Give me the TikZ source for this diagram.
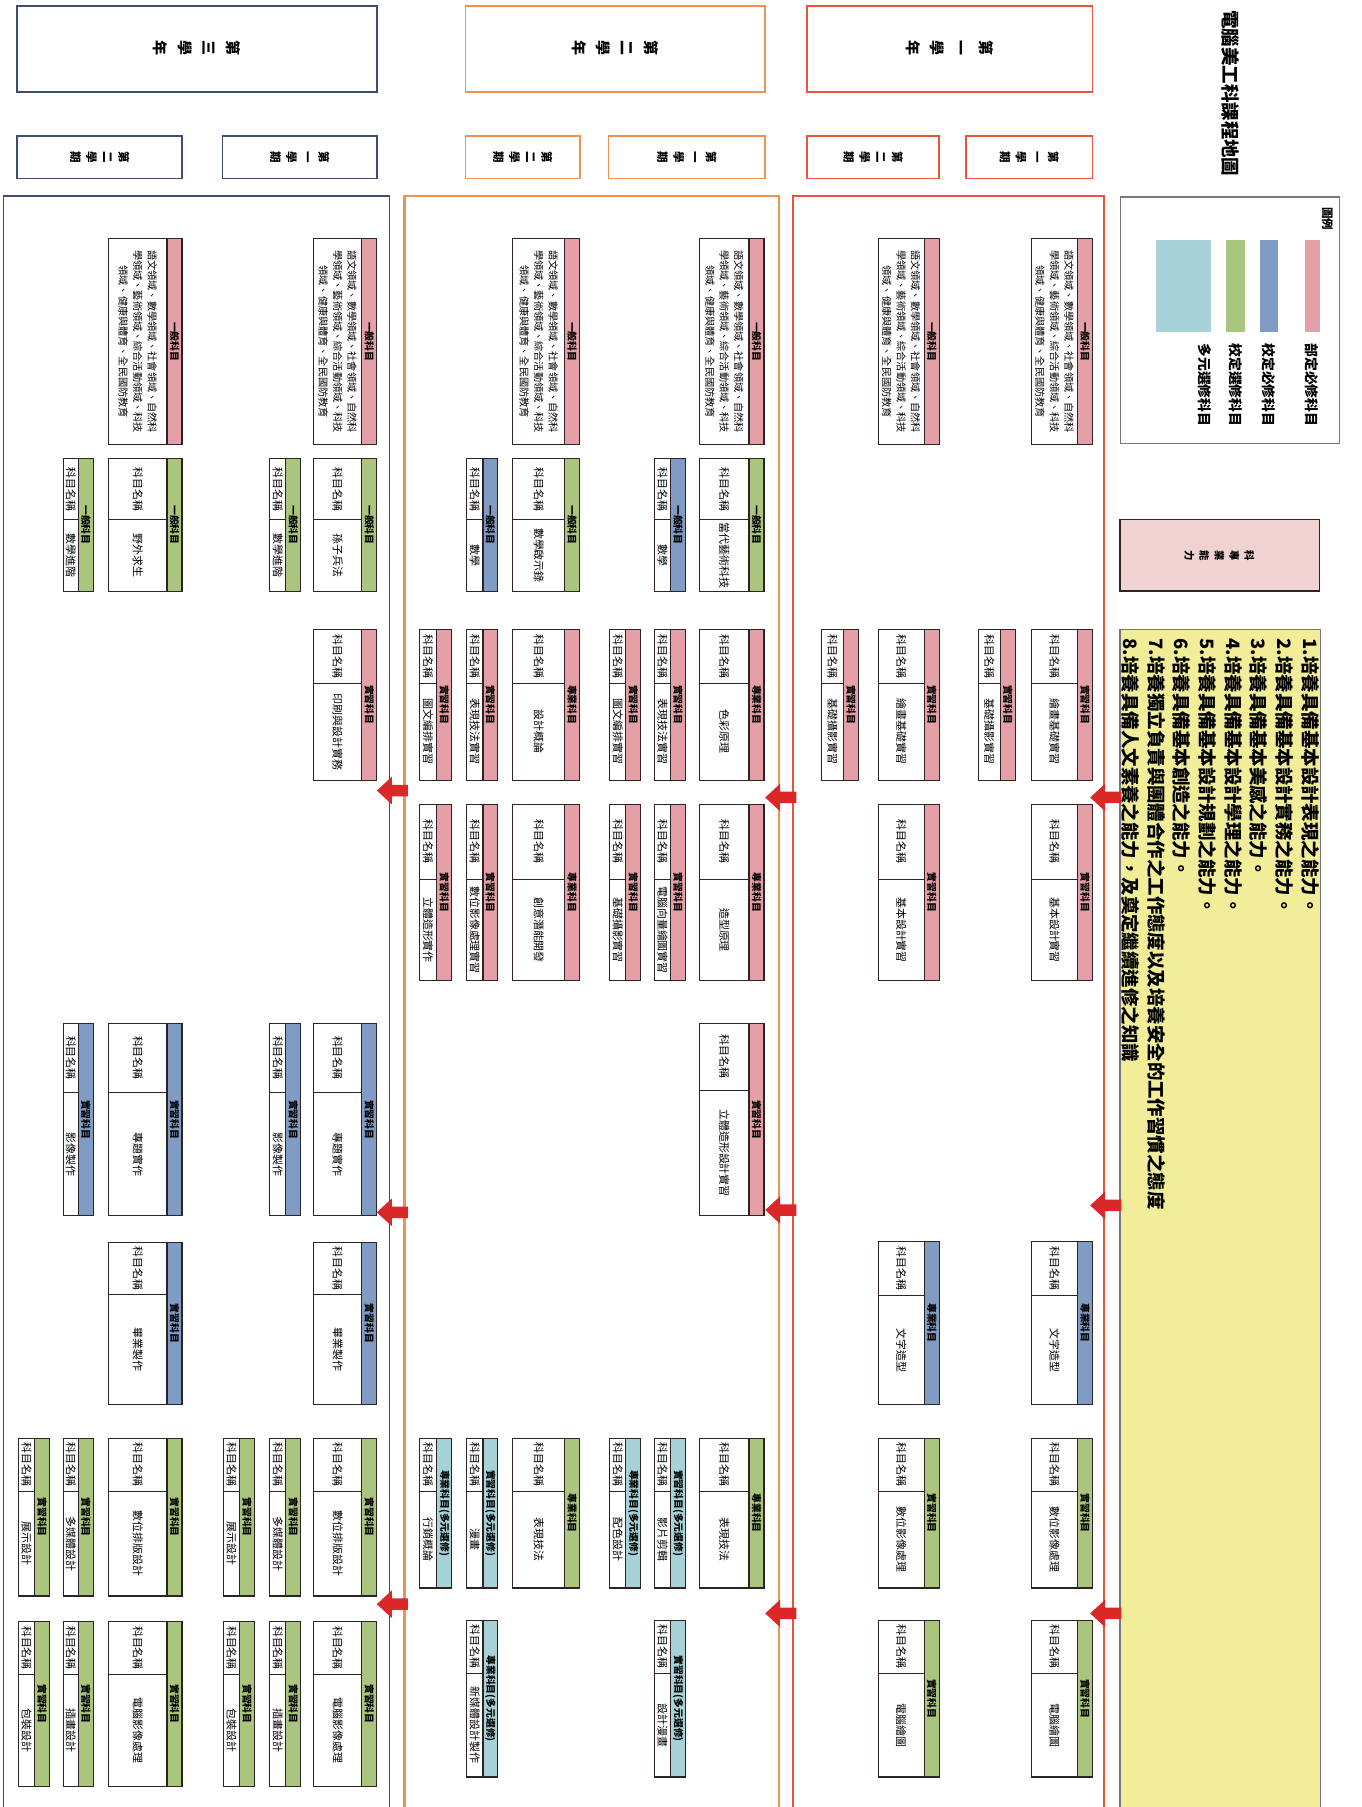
\documentclass[tikz,border=0pt]{standalone}
\usepackage{fontspec}
\setmainfont{Noto Sans CJK TC}
\definecolor{pinkc}{RGB}{228,160,166}
\definecolor{bluec}{RGB}{128,155,196}
\definecolor{greenc}{RGB}{170,197,126}
\definecolor{cyanc}{RGB}{166,210,216}
\definecolor{yellowc}{RGB}{241,237,152}
\definecolor{pinkbox}{RGB}{240,210,210}
\definecolor{redone}{RGB}{232,84,64}
\definecolor{orangetwo}{RGB}{240,145,80}
\definecolor{navythree}{RGB}{62,76,120}
\definecolor{arrowred}{RGB}{218,40,40}
\definecolor{boxdark}{RGB}{45,35,35}
\definecolor{leggray}{RGB}{120,118,128}
\tikzset{
  bl/.style={draw=boxdark, line width=1.1pt},
  hdr/.style={rotate=-90, font=\fontsize{8.5}{9}\selectfont\bfseries, inner sep=0pt},
  lbl/.style={rotate=-90, font=\fontsize{9.5}{10}\selectfont, inner sep=0pt},
  gtxt/.style={rotate=-90, align=center, font=\fontsize{8.8}{12.5}\selectfont, inner sep=0pt},
  yhead/.style={rotate=-90, align=center, font=\fontsize{13}{21}\selectfont\bfseries, inner sep=0pt},
  shead/.style={rotate=-90, align=center, font=\fontsize{10}{14}\selectfont\bfseries, inner sep=0pt},
  blockarrow/.style={fill=arrowred},
}
% #1 name #2 x0 #3 x1 #4 y0 #5 y1 #6 colour #7 category #8 course #9 split
\newcommand\course[9]{%
  \fill[#6] ({#3-13},#4) rectangle (#3,#5);
  \draw[bl] ({#3-13},#4) -- ({#3-13},#5) (#2,{#4+#9}) -- ({#3-13},{#4+#9});
  \draw[bl] (#2,#4) rectangle (#3,#5);
  \node[hdr] (#1-h) at ({#3-6.5},{(#4+#5)/2}) {#7};
  \node[lbl] (#1-k) at ({(#2+#3-13)/2},{#4+#9/2}) {科目名稱};
  \node[lbl] (#1-n) at ({(#2+#3-13)/2},{(#4+#9+#5)/2}) {#8};
}
\newcommand\general[5]{%
  \fill[pinkc] ({#3-13},#4) rectangle (#3,#5);
  \draw[bl] ({#3-13},#4) -- ({#3-13},#5);
  \draw[bl] (#2,#4) rectangle (#3,#5);
  \node[hdr] (#1-h) at ({#3-6.5},{(#4+#5)/2}) {一般科目};
  \node[gtxt] (#1-t) at ({(#2+#3-13)/2},{(#4+#5)/2}) {語文領域、數學領域、社會領域、自然科\\學領域、藝術領域、綜合活動領域、科技\\領域、健康與體育、全民國防教育};
}
\newcommand\leftarrowat[2]{%
  \fill[blockarrow] (#1,#2) -- ({#1+13},{#2-12}) -- ({#1+13},{#2-5}) -- ({#1+27},{#2-5})
    -- ({#1+27},{#2+5}) -- ({#1+13},{#2+5}) -- ({#1+13},{#2+12}) -- cycle;
}
\begin{document}
\begin{tikzpicture}[x=1pt,y=-1pt]
\useasboundingbox (0,0) rectangle (1181,1568);
\clip (0,0) rectangle (1181,1568);
\fill[white] (0,0) rectangle (1181,1568);

% title
\node[rotate=-90, font=\fontsize{16}{18}\selectfont\bfseries, inner sep=0pt] (title) at (1068,81) {電腦美工科課程地圖};

% legend
\draw[leggray, line width=1pt] (972,171) rectangle (1162,385);
\node[rotate=-90, font=\fontsize{10}{11}\selectfont\bfseries, inner sep=0pt] (legtitle) at (1152,190) {圖例};
\fill[pinkc] (1132,208) rectangle (1145,288);
\fill[bluec] (1093,208) rectangle (1109,288);
\fill[greenc] (1064,208) rectangle (1080,288);
\fill[cyanc] (1003,208) rectangle (1051,288);
\node[rotate=-90, font=\fontsize{12}{13}\selectfont\bfseries, inner sep=0pt] (leg1) at (1138,334) {部定必修科目};
\node[rotate=-90, font=\fontsize{12}{13}\selectfont\bfseries, inner sep=0pt] (leg2) at (1101,334) {校定必修科目};
\node[rotate=-90, font=\fontsize{12}{13}\selectfont\bfseries, inner sep=0pt] (leg3) at (1072,334) {校定選修科目};
\node[rotate=-90, font=\fontsize{12}{13}\selectfont\bfseries, inner sep=0pt] (leg4) at (1045,334) {多元選修科目};

% ability box
\fill[pinkbox] (972,451) rectangle (1145,513);
\draw[boxdark, line width=1.3pt] (972,451) rectangle (1145,513);
\node[rotate=-90, align=center, font=\fontsize{9}{13}\selectfont\bfseries, inner sep=0pt] (ability) at (1058,482) {科\\專\\業\\能\\力};

% objectives
\fill[yellowc] (972,546) rectangle (1146,1580);
\draw[leggray, line width=1.2pt] (972,546) rectangle (1146,1580);
\node[rotate=-90, anchor=north west, align=left, font=\fontsize{16}{22.3}\selectfont\bfseries, inner sep=0pt] (obj) at (1145,554) {1.培養具備基本設計表現之能力。\\2.培養具備基本設計實務之能力。\\3.培養具備基本美感之能力。\\4.培養具備基本設計學理之能力。\\5.培養具備基本設計規劃之能力。\\6.培養具備基本創造之能力。\\7.培養獨立負責與團體合作之工作態度以及培養安全的工作習慣之態度\\8.培養具備人文素養之能力，及奠定繼續進修之知識};

% year headers
\draw[navythree, line width=1.5pt] (15,5) rectangle (327,80);
\node[yhead] (y3) at (171,42) {第\\三\\學\\年};
\draw[orangetwo, line width=1.5pt] (404,5) rectangle (664,80);
\node[yhead] (y2) at (534,42) {第\\二\\學\\年};
\draw[redone, line width=1.5pt] (700,5) rectangle (948,80);
\node[yhead] (y1) at (824,42) {第\\一\\學\\年};

% semester headers
\draw[navythree, line width=1.5pt] (15,118) rectangle (158,155);
\node[shead] (s32) at (86.5,136.5) {第\\二\\學\\期};
\draw[navythree, line width=1.5pt] (193,118) rectangle (327,155);
\node[shead] (s31) at (260,136.5) {第\\一\\學\\期};
\draw[orangetwo, line width=1.5pt] (404,118) rectangle (503,155);
\node[shead] (s22) at (453.5,136.5) {第\\二\\學\\期};
\draw[orangetwo, line width=1.5pt] (528,118) rectangle (664,155);
\node[shead] (s21) at (596,136.5) {第\\一\\學\\期};
\draw[redone, line width=1.5pt] (700,118) rectangle (815,155);
\node[shead] (s12) at (757.5,136.5) {第\\二\\學\\期};
\draw[redone, line width=1.5pt] (838,118) rectangle (948,155);
\node[shead] (s11) at (893,136.5) {第\\一\\學\\期};

% column frames
\draw[redone, line width=1.5pt] (688,170) rectangle (958,1600);
\draw[orangetwo, line width=2pt] (351,170) rectangle (676,1600);
\draw[navythree, line width=1.5pt] (3,170) rectangle (338,1600);

% ---------- year 1 ----------
\general{g11}{895}{948}{207}{386}
\general{g12}{762}{815}{207}{386}
\course{c11a}{895}{948}{546}{677}{pinkc}{實習科目}{繪畫基礎實習}{47}
\course{c11b}{849}{881}{546}{677}{pinkc}{實習科目}{基礎攝影實習}{47}
\course{c12a}{762}{815}{546}{677}{pinkc}{實習科目}{繪畫基礎實習}{47}
\course{c12b}{713}{745}{546}{677}{pinkc}{實習科目}{基礎攝影實習}{47}
\course{c11c}{895}{948}{698}{851}{pinkc}{實習科目}{基本設計實習}{65}
\course{c12c}{762}{815}{698}{851}{pinkc}{實習科目}{基本設計實習}{65}
\course{c11d}{895}{948}{1077}{1219}{bluec}{專業科目}{文字造型}{47}
\course{c12d}{762}{815}{1077}{1219}{bluec}{專業科目}{文字造型}{47}
\course{c11e}{895}{948}{1248}{1378}{greenc}{實習科目}{數位影像處理}{46}
\course{c12e}{762}{815}{1248}{1378}{greenc}{實習科目}{數位影像處理}{46}
\course{c11f}{895}{948}{1406}{1542}{greenc}{實習科目}{電腦繪圖}{46}
\course{c12f}{762}{815}{1406}{1542}{greenc}{實習科目}{電腦繪圖}{46}

% ---------- year 2 ----------
\general{g21}{607}{663}{207}{386}
\general{g22}{445}{503}{207}{386}
\course{c21a}{607}{663}{398}{513}{greenc}{一般科目}{當代藝術科技}{53}
\course{c21b}{568}{595}{398}{513}{bluec}{一般科目}{數學}{53}
\course{c22a}{445}{503}{398}{513}{greenc}{一般科目}{數學啟示錄}{53}
\course{c22b}{405}{432}{398}{513}{bluec}{一般科目}{數學}{53}
\course{c21c}{607}{663}{546}{677}{pinkc}{專業科目}{色彩原理}{47}
\course{c21d}{568}{595}{546}{677}{pinkc}{實習科目}{表現技法實習}{47}
\course{c21e}{529}{556}{546}{677}{pinkc}{實習科目}{圖文編排實習}{47}
\course{c22c}{445}{503}{546}{677}{pinkc}{專業科目}{設計概論}{47}
\course{c22d}{405}{432}{546}{677}{pinkc}{實習科目}{表現技法實習}{47}
\course{c22e}{364}{392}{546}{677}{pinkc}{實習科目}{圖文編排實習}{47}
\course{c21f}{607}{663}{698}{851}{pinkc}{專業科目}{造型原理}{65}
\course{c21g}{568}{595}{698}{851}{pinkc}{實習科目}{電腦向量繪圖實習}{65}
\course{c21h}{529}{556}{698}{851}{pinkc}{實習科目}{基礎攝影實習}{65}
\course{c22f}{445}{503}{698}{851}{pinkc}{專業科目}{創意潛能開發}{65}
\course{c22g}{405}{432}{698}{851}{pinkc}{實習科目}{數位影像處理實習}{65}
\course{c22h}{364}{392}{698}{851}{pinkc}{實習科目}{立體造形實作}{65}
\course{c21i}{607}{663}{888}{1055}{pinkc}{實習科目}{立體造形設計實習}{58}
\course{c21j}{607}{663}{1248}{1378}{greenc}{專業科目}{表現技法}{46}
\course{c21k}{568}{595}{1248}{1378}{cyanc}{實習科目(多元選修)}{影片剪輯}{46}
\course{c21l}{529}{556}{1248}{1378}{cyanc}{專業科目(多元選修)}{配色設計}{46}
\course{c22j}{445}{503}{1248}{1378}{greenc}{專業科目}{表現技法}{46}
\course{c22k}{405}{432}{1248}{1378}{cyanc}{實習科目(多元選修)}{漫畫}{46}
\course{c22l}{364}{392}{1248}{1378}{cyanc}{專業科目(多元選修)}{行銷概論}{46}
\course{c21m}{568}{595}{1406}{1542}{cyanc}{實習科目(多元選修)}{設計漫畫}{46}
\course{c22m}{405}{432}{1406}{1542}{cyanc}{專業科目(多元選修)}{新媒體設計製作}{46}

% ---------- year 3 ----------
\general{g31}{272}{327}{207}{386}
\general{g32}{94}{158}{207}{386}
\course{c31a}{272}{327}{398}{513}{greenc}{一般科目}{孫子兵法}{53}
\course{c31b}{234}{261}{398}{513}{greenc}{一般科目}{數學進階}{53}
\course{c32a}{94}{158}{398}{513}{greenc}{一般科目}{野外求生}{53}
\course{c32b}{55}{81}{398}{513}{greenc}{一般科目}{數學進階}{53}
\course{c31c}{272}{327}{546}{677}{pinkc}{實習科目}{印刷與設計實務}{47}
\course{c31d}{272}{327}{888}{1055}{bluec}{實習科目}{專題實作}{60}
\course{c31e}{234}{261}{888}{1055}{bluec}{實習科目}{影像製作}{60}
\course{c32d}{94}{158}{888}{1055}{bluec}{實習科目}{專題實作}{60}
\course{c32e}{55}{81}{888}{1055}{bluec}{實習科目}{影像製作}{60}
\course{c31f}{272}{327}{1078}{1219}{bluec}{實習科目}{畢業製作}{45}
\course{c32f}{94}{158}{1078}{1219}{bluec}{實習科目}{畢業製作}{45}
\course{c31g}{272}{327}{1248}{1385}{greenc}{實習科目}{數位排版設計}{46}
\course{c31h}{234}{261}{1248}{1385}{greenc}{實習科目}{多媒體設計}{46}
\course{c31i}{194}{221}{1248}{1385}{greenc}{實習科目}{展示設計}{46}
\course{c32g}{94}{158}{1248}{1385}{greenc}{實習科目}{數位排版設計}{46}
\course{c32h}{55}{81}{1248}{1385}{greenc}{實習科目}{多媒體設計}{46}
\course{c32i}{16}{43}{1248}{1385}{greenc}{實習科目}{展示設計}{46}
\course{c31j}{272}{327}{1407}{1550}{greenc}{實習科目}{電腦影像處理}{46}
\course{c31k}{234}{261}{1407}{1550}{greenc}{實習科目}{插畫設計}{46}
\course{c31l}{194}{221}{1407}{1550}{greenc}{實習科目}{包裝設計}{46}
\course{c32j}{94}{158}{1407}{1550}{greenc}{實習科目}{電腦影像處理}{46}
\course{c32k}{55}{81}{1407}{1550}{greenc}{實習科目}{插畫設計}{46}
\course{c32l}{16}{43}{1407}{1550}{greenc}{實習科目}{包裝設計}{46}

% arrows
\leftarrowat{946}{692}
\leftarrowat{946}{1046}
\leftarrowat{946}{1400}
\leftarrowat{664}{692}
\leftarrowat{664}{1050}
\leftarrowat{664}{1400}
\leftarrowat{327}{686}
\leftarrowat{327}{1052}
\leftarrowat{327}{1392}
\end{tikzpicture}
\end{document}
